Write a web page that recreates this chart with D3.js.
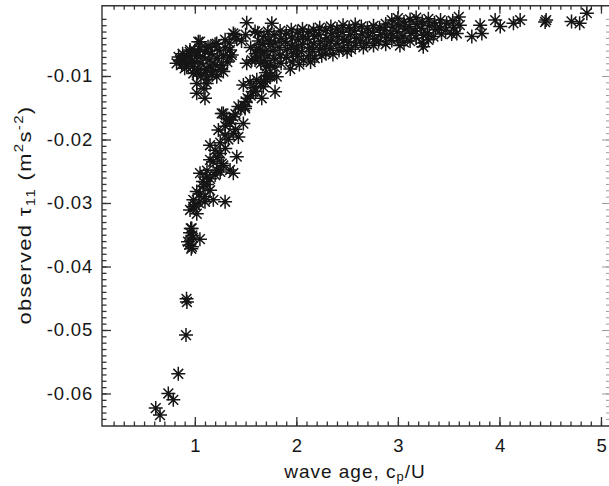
<!DOCTYPE html>
<html>
<head>
<meta charset="utf-8">
<script src="https://cdn.jsdelivr.net/npm/d3@7"></script>
<style>
  body { margin: 0; background: #fff; }
  svg text { font-family: "Liberation Sans", Arial, Helvetica, sans-serif; fill: #161616; }
</style>
</head>
<body>
<div class="canvas"></div>
<script>
// data: [wave age c_p/U, observed tau_11 (m^2 s^-2)]
const tailPoints = [
  [0.615,-0.0623],[0.657,-0.0634],[0.739,-0.0600],[0.788,-0.0610],[0.837,-0.0569],
  [0.913,-0.0508],[0.918,-0.0451],[0.922,-0.0456],
  [0.933,-0.0361],[0.953,-0.0347],[0.960,-0.0340],[0.972,-0.0369],[0.975,-0.0351],
  [0.982,-0.0355],[0.945,-0.0366],[1.050,-0.0357],[0.965,-0.0372]
];

const steepBranch = [
  [0.969,-0.0340],[0.953,-0.0311],[0.985,-0.0306],[1.019,-0.0317],[1.00,-0.0303],[1.04,-0.0300],
  [0.985,-0.0295],[1.100,-0.0298],[1.182,-0.0295],[1.298,-0.0298],[1.05,-0.0286],[1.10,-0.0290],
  [1.019,-0.0282],[1.084,-0.0274],[1.150,-0.0280],[1.08,-0.0266],[1.12,-0.0271],
  [1.051,-0.0253],[1.117,-0.0259],[1.15,-0.0262],[1.20,-0.0256],[1.216,-0.0248],[1.25,-0.0251],
  [1.347,-0.0248],[1.379,-0.0253],[1.12,-0.0249],[1.28,-0.0241],
  [1.150,-0.0232],[1.265,-0.0238],[1.18,-0.0235],[1.22,-0.0228],[1.413,-0.0227],[1.248,-0.0222],
  [1.199,-0.0217],[1.150,-0.0209],[1.30,-0.0214],[1.25,-0.0205],[1.33,-0.0200],
  [1.232,-0.0185],[1.298,-0.0193],[1.379,-0.0190],[1.429,-0.0196],[1.40,-0.0184],[1.30,-0.0179],
  [1.347,-0.0175],[1.478,-0.0175],[1.35,-0.0169],[1.315,-0.0167],[1.379,-0.0164],[1.281,-0.0159],
  [1.265,-0.0159],[1.40,-0.0160],[1.45,-0.0152],[1.429,-0.0148],[1.495,-0.0148],[1.495,-0.0151],
  [1.50,-0.0140],[1.55,-0.0131],[1.52,-0.0135],[1.576,-0.0125],[1.60,-0.0124],[1.659,-0.0135],
  [1.58,-0.0118],[1.478,-0.0114],[1.544,-0.0109],[1.610,-0.0106],[1.675,-0.0117],[1.65,-0.0112],
  [1.70,-0.0105],[1.790,-0.0125],[1.741,-0.0101],[1.807,-0.0101],[1.75,-0.0099],[1.68,-0.0108]
];

const hookCluster = [
  [0.854,-0.0075],[0.953,-0.0059],[1.051,-0.0046],[1.13,-0.0054],[1.216,-0.0049],[1.298,-0.0043],
  [1.379,-0.0033],[1.413,-0.0041],[1.347,-0.0059],[1.347,-0.0070],[1.364,-0.0067],[1.396,-0.0035],
  [1.034,-0.0046],[1.019,-0.0127],[1.100,-0.0135],[1.019,-0.0112],[1.117,-0.0112],[1.216,-0.0101],
  [1.281,-0.0093],[0.920,-0.0085],[0.985,-0.0096],[1.150,-0.0085],[1.265,-0.0083],
  [0.82,-0.0080],[0.84,-0.0070],[0.87,-0.0082],[0.88,-0.0065],[0.90,-0.0075],[0.92,-0.0068],
  [0.94,-0.0080],[0.96,-0.0072],[0.98,-0.0085],[1.00,-0.0078],[1.02,-0.0068],[1.04,-0.0090],
  [1.06,-0.0080],[1.08,-0.0070],[1.10,-0.0095],[1.12,-0.0088],[1.14,-0.0075],[1.16,-0.0065],
  [1.18,-0.0092],[1.20,-0.0082],[1.22,-0.0072],[1.24,-0.0060],[1.26,-0.0090],[1.28,-0.0068],
  [1.30,-0.0055],[1.32,-0.0078],[1.34,-0.0048],[1.00,-0.0060],[1.05,-0.0058],[1.10,-0.0062],
  [1.15,-0.0055],[1.20,-0.0050],[0.95,-0.0062],[1.06,-0.0100],[1.12,-0.0105],[1.02,-0.0095],
  [0.90,-0.0088],[1.09,-0.0120],[1.17,-0.0098]
];

const middlePoints = [
  [1.511,-0.0080],[1.593,-0.0075],[1.561,-0.0075],[1.708,-0.0085],[1.642,-0.0059],[1.741,-0.0049],
  [1.55,-0.0055],[1.60,-0.0065],[1.65,-0.0080],[1.70,-0.0095],[1.511,-0.0016],[1.593,-0.0030],
  [1.758,-0.0017],[1.46,-0.0045],[1.50,-0.0035]
];

const bandPoints = [
  [1.62,-0.0032],[1.63,-0.0045],[1.61,-0.0058],[1.62,-0.0070],
  [1.68,-0.0038],[1.67,-0.0050],[1.69,-0.0062],[1.68,-0.0076],
  [1.72,-0.0030],[1.73,-0.0044],[1.72,-0.0068],[1.74,-0.0083],
  [1.78,-0.0035],[1.79,-0.0048],[1.77,-0.0060],[1.78,-0.0072],[1.79,-0.0086],
  [1.84,-0.0029],[1.85,-0.0041],[1.83,-0.0055],[1.84,-0.0067],[1.85,-0.0080],
  [1.90,-0.0033],[1.89,-0.0046],[1.91,-0.0058],[1.90,-0.0071],[1.94,-0.0089],
  [1.95,-0.0027],[1.96,-0.0040],[1.95,-0.0052],[1.97,-0.0064],[1.96,-0.0078],
  [2.01,-0.0031],[2.02,-0.0043],[2.00,-0.0056],[2.01,-0.0069],[2.03,-0.0082],
  [2.06,-0.0026],[2.07,-0.0038],[2.06,-0.0050],[2.05,-0.0062],[2.07,-0.0075],
  [2.12,-0.0030],[2.11,-0.0042],[2.13,-0.0055],[2.12,-0.0068],[2.14,-0.0078],
  [2.17,-0.0027],[2.18,-0.0037],[2.17,-0.0049],[2.16,-0.0061],[2.18,-0.0072],
  [2.23,-0.0024],[2.22,-0.0035],[2.24,-0.0046],[2.23,-0.0058],[2.25,-0.0068],
  [2.29,-0.0028],[2.30,-0.0040],[2.28,-0.0052],[2.29,-0.0064],
  [2.34,-0.0022],[2.35,-0.0033],[2.34,-0.0045],[2.33,-0.0057],[2.36,-0.0066],
  [2.40,-0.0026],[2.41,-0.0038],[2.40,-0.0049],[2.42,-0.0060],
  [2.46,-0.0020],[2.45,-0.0031],[2.47,-0.0043],[2.46,-0.0055],[2.50,-0.0062],
  [2.52,-0.0024],[2.53,-0.0035],[2.51,-0.0047],[2.54,-0.0058],
  [2.58,-0.0019],[2.57,-0.0029],[2.59,-0.0040],[2.58,-0.0052],
  [2.64,-0.0022],[2.65,-0.0034],[2.63,-0.0045],[2.66,-0.0055],
  [2.70,-0.0025],[2.71,-0.0037],[2.69,-0.0049],
  [2.76,-0.0021],[2.75,-0.0031],[2.77,-0.0042],[2.76,-0.0052],
  [2.82,-0.0024],[2.83,-0.0035],[2.81,-0.0046],
  [2.88,-0.0018],[2.87,-0.0028],[2.89,-0.0039],[2.88,-0.0050],
  [2.94,-0.0012],[2.95,-0.0023],[2.93,-0.0033],[2.94,-0.0044],
  [3.00,-0.0009],[3.01,-0.0020],[2.99,-0.0030],[3.00,-0.0041],[3.02,-0.0052],
  [3.06,-0.0015],[3.07,-0.0026],[3.05,-0.0037],[3.06,-0.0047],
  [3.12,-0.0011],[3.11,-0.0022],[3.13,-0.0033],[3.12,-0.0045],
  [3.18,-0.0008],[3.19,-0.0019],[3.17,-0.0029],[3.18,-0.0040],[3.25,-0.0054],
  [3.24,-0.0014],[3.23,-0.0025],[3.25,-0.0036],[3.24,-0.0048],
  [3.30,-0.0010],[3.31,-0.0021],[3.29,-0.0032],[3.30,-0.0043],
  [3.36,-0.0016],[3.37,-0.0027],[3.35,-0.0038],
  [3.42,-0.0012],[3.41,-0.0023],[3.43,-0.0034],
  [3.48,-0.0017],[3.47,-0.0028],
  [3.54,-0.0013],[3.55,-0.0024],[3.53,-0.0034],
  [3.60,-0.0007],[3.58,-0.0033],[3.61,-0.0020]
];

const outerPoints = [
  [3.728,-0.0038],[3.810,-0.0020],[3.827,-0.0033],[3.958,-0.0012],[4.008,-0.0022],
  [4.138,-0.0017],[4.204,-0.0012],[4.450,-0.0015],[4.460,-0.0012],[4.710,-0.0014],
  [4.790,-0.0017],[4.861,-0.0001]
];

const allPoints = [].concat(tailPoints, steepBranch, hookCluster, middlePoints, bandPoints, outerPoints);

const xMajorTicks = [1, 2, 3, 4, 5];
const yMajorTicks = [-0.06, -0.05, -0.04, -0.03, -0.02, -0.01];
const yTickLabels = ['-0.06', '-0.05', '-0.04', '-0.03', '-0.02', '-0.01'];

const width = 609, height = 486;
const plot = { left: 102, right: 610, top: 5.7, bottom: 426 };

const svg = d3.select('.canvas')
  .append('svg')
    .attr('width', width)
    .attr('height', height);

svg.append('rect').attr('width', width).attr('height', height).attr('fill', '#fff');

const x = d3.scaleLinear().domain([0.0857, 5.089]).range([plot.left, plot.right]);
const y = d3.scaleLinear().domain([-0.06512, 0.00107]).range([plot.bottom, plot.top]);

// minor ticks every 0.1 on x, every 0.001 on y
const xMinor = d3.range(1, 51).map(d => d / 10).filter(d => x(d) > plot.left + 2 && x(d) < plot.right - 2);
const yMinor = d3.range(-65, 0).map(d => d / 1000).filter(d => y(d) < plot.bottom - 2 && y(d) > plot.top + 2);

const axisColour = '#333';

const bottomMinor = svg.append('g').attr('transform', `translate(0, ${plot.bottom})`)
  .call(d3.axisTop(x).tickValues(xMinor).tickSize(4.5).tickFormat(''));
const bottomMajor = svg.append('g').attr('transform', `translate(0, ${plot.bottom})`)
  .call(d3.axisTop(x).tickValues(xMajorTicks).tickSize(9).tickFormat(''));
const topMinor = svg.append('g').attr('transform', `translate(0, ${plot.top})`)
  .call(d3.axisBottom(x).tickValues(xMinor).tickSize(4).tickFormat(''));
const topMajor = svg.append('g').attr('transform', `translate(0, ${plot.top})`)
  .call(d3.axisBottom(x).tickValues(xMajorTicks).tickSize(8).tickFormat(''));
const leftMinor = svg.append('g').attr('transform', `translate(${plot.left}, 0)`)
  .call(d3.axisRight(y).tickValues(yMinor).tickSize(4.5).tickFormat(''));
const leftMajor = svg.append('g').attr('transform', `translate(${plot.left}, 0)`)
  .call(d3.axisRight(y).tickValues(yMajorTicks).tickSize(9).tickFormat(''));
const rightMinor = svg.append('g').attr('transform', `translate(${plot.right}, 0)`)
  .call(d3.axisLeft(y).tickValues(yMinor).tickSize(4).tickFormat(''));
const rightMajor = svg.append('g').attr('transform', `translate(${plot.right}, 0)`)
  .call(d3.axisLeft(y).tickValues(yMajorTicks).tickSize(8).tickFormat(''));

[bottomMinor, bottomMajor, topMinor, topMajor, leftMinor, leftMajor].forEach(g => {
  g.select('.domain').remove();
  g.selectAll('line').attr('stroke', axisColour).attr('stroke-width', 1.3);
});
[rightMinor, rightMajor].forEach(g => {
  g.select('.domain').remove();
  g.selectAll('line').attr('stroke', '#9a9a9a').attr('stroke-width', 1);
});

// frame: left, bottom and top solid
svg.append('path')
  .attr('d', `M${plot.right},${plot.top}H${plot.left}V${plot.bottom}H${plot.right}`)
  .attr('fill', 'none')
  .attr('stroke', axisColour)
  .attr('stroke-width', 1.4);

// tick labels
svg.append('g').selectAll('text')
  .data(xMajorTicks)
  .enter().append('text')
    .attr('x', d => x(d) + 1)
    .attr('y', 452)
    .attr('text-anchor', 'middle')
    .attr('font-size', 18.5)
    .attr('letter-spacing', 0.8)
    .text(d => d);

svg.append('g').selectAll('text')
  .data(yMajorTicks)
  .enter().append('text')
    .attr('x', 93)
    .attr('y', d => y(d) + 6.5)
    .attr('text-anchor', 'end')
    .attr('font-size', 18.5)
    .attr('letter-spacing', 0.8)
    .text((d, i) => yTickLabels[i]);

// axis titles
const xTitle = svg.append('text')
  .attr('x', 355)
  .attr('y', 478)
  .attr('text-anchor', 'middle')
  .attr('font-size', 19)
  .attr('letter-spacing', 1);
xTitle.append('tspan').text('wave age, c');
xTitle.append('tspan').attr('font-size', 13).attr('dy', 3).text('p');
xTitle.append('tspan').attr('dy', -3).text('/U');

const yTitle = svg.append('text')
  .attr('transform', 'translate(31, 215) rotate(-90) scale(1.15, 1)')
  .attr('text-anchor', 'middle')
  .attr('font-size', 19)
  .attr('letter-spacing', 1.2);
yTitle.append('tspan').text('observed \u03c4');
yTitle.append('tspan').attr('font-size', 13).attr('dy', 4).text('11');
yTitle.append('tspan').attr('dy', -4).text(' (m');
yTitle.append('tspan').attr('font-size', 13).attr('dy', -8).text('2');
yTitle.append('tspan').attr('dy', 8).text('s');
yTitle.append('tspan').attr('font-size', 13).attr('dy', -8).text('-2');
yTitle.append('tspan').attr('dy', 8).text(')');

// asterisk markers
const r = 7, k = 0.7 * r;
const star = `M${-r},0H${r}M0,${-r}V${r}M${-k},${-k}L${k},${k}M${-k},${k}L${k},${-k}`;

svg.append('g')
  .selectAll('path')
  .data(allPoints)
  .enter().append('path')
    .attr('transform', d => `translate(${x(d[0])}, ${y(d[1])})`)
    .attr('d', star)
    .attr('fill', 'none')
    .attr('stroke', '#151515')
    .attr('stroke-width', 1.5);
</script>
</body>
</html>
